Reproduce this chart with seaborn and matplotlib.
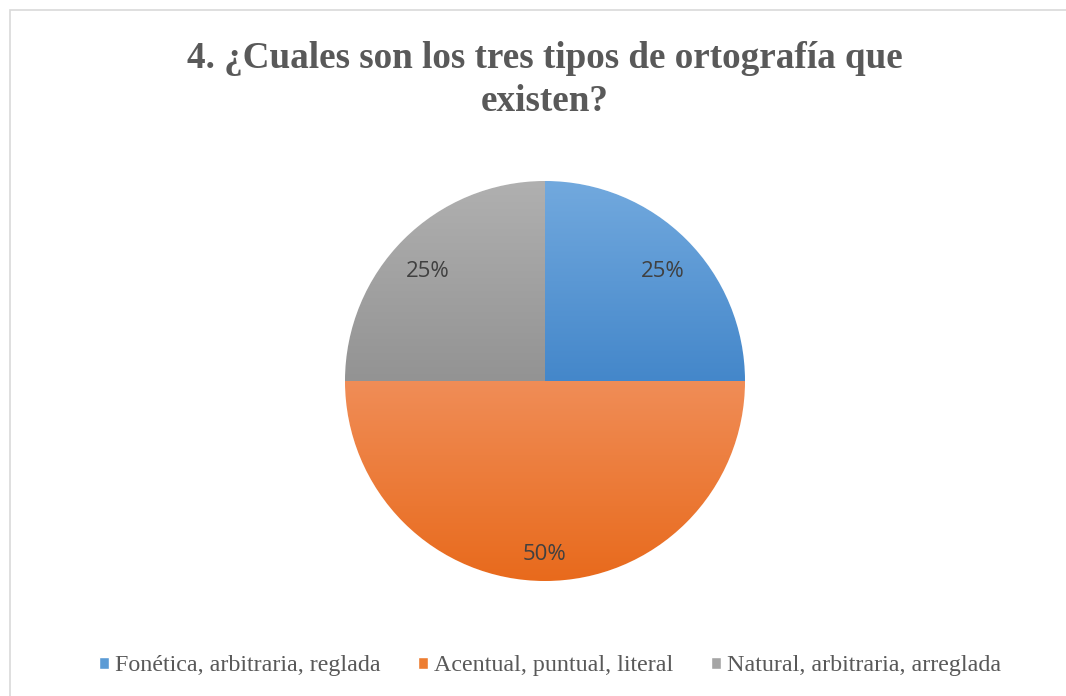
import numpy as np
import matplotlib
matplotlib.use("Agg")
import matplotlib.pyplot as plt
import seaborn as sns
from matplotlib.colors import LinearSegmentedColormap
from matplotlib.patches import Rectangle

# data
labels = ["Fonética, arbitraria, reglada", "Acentual, puntual, literal", "Natural, arbitraria, arreglada"]
values = [25, 50, 25]
title = "4. ¿Cuales son los tres tipos de ortografía que\nexisten?"

# colours (top / bottom of each wedge gradient)
base_colors = ["#5B9BD5", "#ED7D31", "#A5A5A5"]
top_colors = ["#72A9DE", "#F08D57", "#B0B0B0"]
bottom_colors = ["#4487CA", "#E86A1C", "#939393"]

sns.set_theme(style="white")
plt.rcParams['font.family'] = ['Liberation Serif', 'DejaVu Serif']

fig = plt.figure(figsize=(10.66, 6.96), dpi=100)
fig.patch.set_facecolor("white")

# chart border (only top/left visible in the reference)
fig.add_artist(Rectangle((9.5 / 1066, -0.01), 1.02, 1 - 9.5 / 696 + 0.01,
                         transform=fig.transFigure, fill=False,
                         edgecolor="#D9D9D9", linewidth=1.2))

ax = fig.add_axes([345 / 1066, 115 / 696, 400 / 1066, 400 / 696])
wedges, texts, autotexts = ax.pie(
    values, colors=base_colors, startangle=90, counterclock=False,
    autopct="%1.0f%%", pctdistance=0.83,
    textprops=dict(family="Open Sans", fontsize=16, color="#404040"))
ax.set_aspect("equal")

# vertical gradient fill clipped to each wedge
for w, c_top, c_bot in zip(wedges, top_colors, bottom_colors):
    path = w.get_path().transformed(w.get_patch_transform())
    ext = path.get_extents()
    cmap = LinearSegmentedColormap.from_list("g", [c_bot, c_top])
    grad = np.linspace(0, 1, 256).reshape(-1, 1)
    im = ax.imshow(grad, cmap=cmap, origin="lower", aspect="auto",
                   extent=[ext.x0, ext.x1, ext.y0, ext.y1], zorder=w.get_zorder() + 0.1)
    im.set_clip_path(w)
for t in autotexts:
    x, y = t.get_position()
    t.set_position((x, y - 0.04))
    t.set_zorder(10)
ax.set_xlim(-1.0, 1.0)
ax.set_ylim(-1.0, 1.0)
ax.axis("off")

fig.text(545 / 1066, 1 - 80 / 696, title, ha="center", va="center", fontsize=26.7,
         fontweight="bold", color="#595959", linespacing=1.3)

handles = [Rectangle((0, 0), 1, 1, facecolor=c) for c in base_colors]
fig.legend(handles, labels, loc="center", bbox_to_anchor=(550 / 1066, 1 - 666 / 696),
           ncol=3, frameon=False, fontsize=17.3, handlelength=0.42, handleheight=0.42,
           handletextpad=0.25, columnspacing=1.55, labelcolor="#595959")

fig.savefig("out.png", dpi=100)
